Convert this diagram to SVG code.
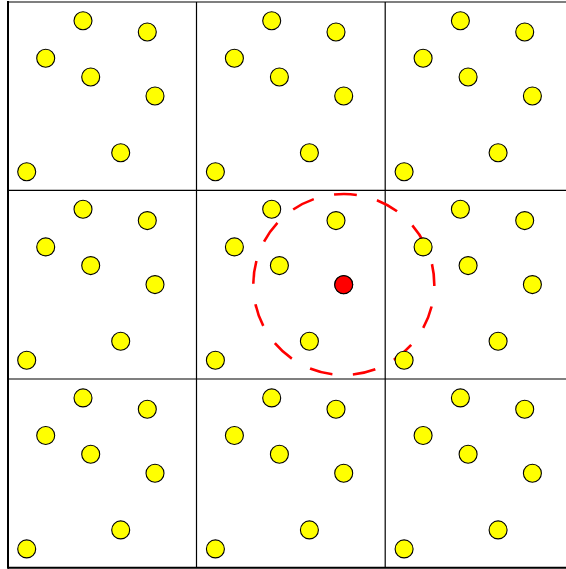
<svg xmlns="http://www.w3.org/2000/svg" xmlns:xlink="http://www.w3.org/1999/xlink" width="566" height="569" viewBox="0 0 566 569">
<style>
.pt{fill:#ffff00;stroke:#000;stroke-width:1.1}
.grid{stroke:#000;stroke-width:1.2;fill:none}
.edge{stroke:#000;stroke-width:2;fill:none}
.query{fill:#ff0000;stroke:#000;stroke-width:1.1}
.range{fill:none;stroke:#ff0000;stroke-width:2.6;stroke-dasharray:23 20.74;stroke-dashoffset:21.5}
</style>
<defs>
<g id="cellpts">
<circle class="pt" cx="83" cy="20.7" r="9"/>
<circle class="pt" cx="147.3" cy="32" r="9"/>
<circle class="pt" cx="45.7" cy="58.3" r="9"/>
<circle class="pt" cx="90.7" cy="77" r="9"/>
<circle class="pt" cx="155" cy="96" r="9"/>
<circle class="pt" cx="120.7" cy="152.7" r="9"/>
<circle class="pt" cx="26.7" cy="171.7" r="9"/>
</g>
</defs>
<rect x="0" y="0" width="566" height="569" fill="#fff"/>
<g id="grid">
<line class="grid" x1="8" y1="2" x2="566" y2="2"/>
<line class="grid" x1="8" y1="190.3" x2="566" y2="190.3"/>
<line class="grid" x1="8" y1="379" x2="566" y2="379"/>
<line class="edge" x1="8" y1="567.7" x2="566" y2="567.7"/>
<line class="edge" x1="8" y1="1" x2="8" y2="568.7"/>
<line class="grid" x1="196.5" y1="2" x2="196.5" y2="568"/>
<line class="grid" x1="385.2" y1="2" x2="385.2" y2="568"/>
</g>
<g id="range">
<circle class="range" cx="343.8" cy="284.5" r="90.5"/>
</g>
<g id="cell-0-0"><use xlink:href="#cellpts"/></g>
<g id="cell-0-1"><use xlink:href="#cellpts" transform="translate(188.7,0)"/></g>
<g id="cell-0-2"><use xlink:href="#cellpts" transform="translate(377.4,0)"/></g>
<g id="cell-1-0"><use xlink:href="#cellpts" transform="translate(0,188.6)"/></g>
<g id="cell-1-1"><use xlink:href="#cellpts" transform="translate(188.7,188.6)"/></g>
<g id="cell-1-2"><use xlink:href="#cellpts" transform="translate(377.4,188.6)"/></g>
<g id="cell-2-0"><use xlink:href="#cellpts" transform="translate(0,377.2)"/></g>
<g id="cell-2-1"><use xlink:href="#cellpts" transform="translate(188.7,377.2)"/></g>
<g id="cell-2-2"><use xlink:href="#cellpts" transform="translate(377.4,377.2)"/></g>
<g id="query">
<circle class="query" cx="343.7" cy="284.7" r="9"/>
</g>
</svg>
